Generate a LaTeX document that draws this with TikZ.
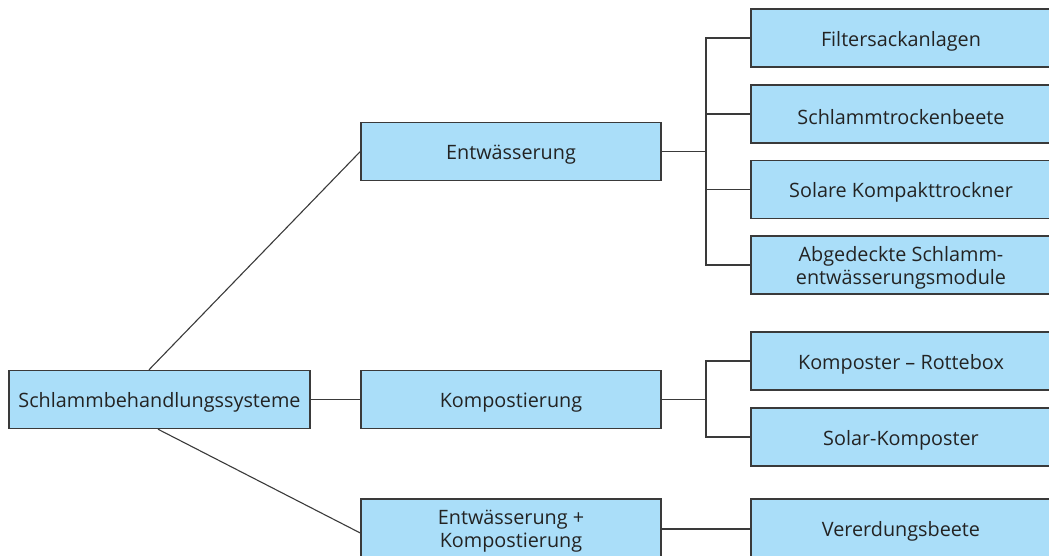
\documentclass[tikz,border=0pt]{standalone}
\usepackage{fontspec}
\setmainfont{Open Sans}
\usetikzlibrary{calc}
\definecolor{boxfill}{RGB}{170,222,249}
\definecolor{boxline}{RGB}{58,58,58}
\definecolor{txt}{RGB}{35,35,35}
\newcommand{\topstrut}{\rule{0pt}{21pt}}
\tikzset{
  box/.style={draw=boxline, line width=1.4pt, fill=boxfill, rectangle,
    minimum width=300pt, minimum height=58pt, inner sep=0pt,
    align=center, text=txt, font=\fontsize{19.8}{23.5}\selectfont},
  link/.style={draw=boxline, line width=1.1pt}
}
\begin{document}
\begin{tikzpicture}[x=1pt,y=-1pt]
\useasboundingbox (0,0) rectangle (1049,555);
% tree nodes
\node[box, minimum width=301pt] (root) at (159.5,399.5) {\topstrut Schlammbehandlungssysteme};
\node[box] (entw) at (511,151.5) {\topstrut Entwässerung};
\node[box] (komp) at (511,399.5) {\topstrut Kompostierung};
\node[box] (ek) at (511,528) {\topstrut Entwässerung +\\Kompostierung};
\node[box] (filt) at (901,38) {\topstrut Filtersackanlagen};
\node[box] (stb) at (901,114) {\topstrut Schlammtrockenbeete};
\node[box] (skt) at (901,189.5) {\topstrut Solare Kompakttrockner};
\node[box] (asm) at (901,265) {\topstrut Abgedeckte Schlamm-\\entwässerungsmodule};
\node[box] (kro) at (901,361) {\topstrut Komposter – Rottebox};
\node[box] (sko) at (901,437) {\topstrut Solar-Komposter};
\node[box] (ver) at (901,528) {\topstrut Vererdungsbeete};
% branch joints
\coordinate (j1) at (706,151.5);
\coordinate (j2) at (706,399.5);
% connectors from the root
\draw[link] ([xshift=-10.5pt]root.north) -- (entw.west);
\draw[link] (root.east) -- (komp.west);
\draw[link] ([xshift=-1.5pt]root.south) -- ([yshift=-5pt]ek.west);
% Entwässerung branch
\draw[link] (entw.east) -- (j1);
\draw[link] (filt.west) -| (j1 |- asm.west) -- (asm.west);
\draw[link] (j1 |- stb.west) -- (stb.west);
\draw[link] (j1 |- skt.west) -- (skt.west);
% Kompostierung branch
\draw[link] (komp.east) -- (j2);
\draw[link] (kro.west) -| (j2 |- sko.west) -- (sko.west);
% combined branch
\draw[link] ([yshift=-1pt]ek.east) -- ([yshift=-1pt]ver.west);
\end{tikzpicture}
\end{document}
